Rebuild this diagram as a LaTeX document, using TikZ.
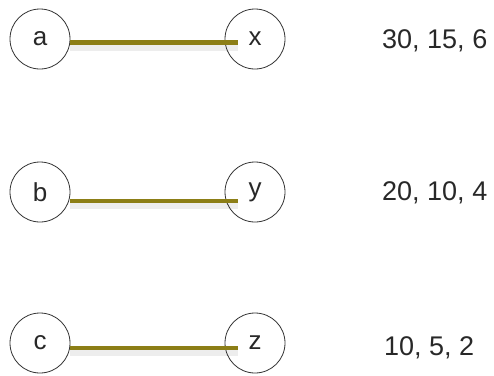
\documentclass[tikz,border=0pt]{standalone}
\usepackage{fontspec}
\setmainfont{Liberation Sans}
\usetikzlibrary{positioning,calc}
\definecolor{edgeolive}{RGB}{140,126,22}
\definecolor{inkgray}{RGB}{40,40,40}

\begin{document}
\begin{tikzpicture}[x=1pt,y=-1pt]
\tikzstyle{vert}=[circle,draw=black!80,line width=0.8pt,minimum size=60pt,inner sep=0pt,text=inkgray,font=\fontsize{26}{30}\selectfont]
\tikzstyle{link}=[line width=4.5pt,draw=edgeolive]
\tikzstyle{glow}=[line width=9pt,draw=black,opacity=0.07]
\tikzstyle{weights}=[anchor=west,inner sep=0pt,text=inkgray,font=\fontsize{27}{32}\selectfont]
\useasboundingbox (0,0) rectangle (494,375);
% left and right vertices
\node[vert] (a) at (40,39) {a};
\node[vert] (x) at (255,39) {x};
\node[vert] (b) at (40,192) {b};
\node[vert] (y) at (255,192) {y};
\node[vert] (c) at (40,343) {c};
\node[vert] (z) at (255,343) {z};
% edges with a soft shadow underneath
\draw[glow] ($(a.east)+(0,7)$) -- ($(x.center)+(-17,7)$);
\draw[link] ($(a.east)+(0,3.5)$) -- ($(x.center)+(-17,3.5)$);
\draw[glow] ($(b.east)+(0,12)$) -- ($(y.center)+(-17,12)$);
\draw[link] ($(b.east)+(0,9)$) -- ($(y.center)+(-17,9)$);
\draw[glow] ($(c.east)+(0,8)$) -- ($(z.center)+(-17,8)$);
\draw[link] ($(c.east)+(0,5)$) -- ($(z.center)+(-17,5)$);
% weight triples
\node[weights] (wa) at (382,41) {30, 15, 6};
\node[weights] (wb) at (382,193) {20, 10, 4};
\node[weights] (wc) at (384,348) {10, 5, 2};
\end{tikzpicture}
\end{document}
